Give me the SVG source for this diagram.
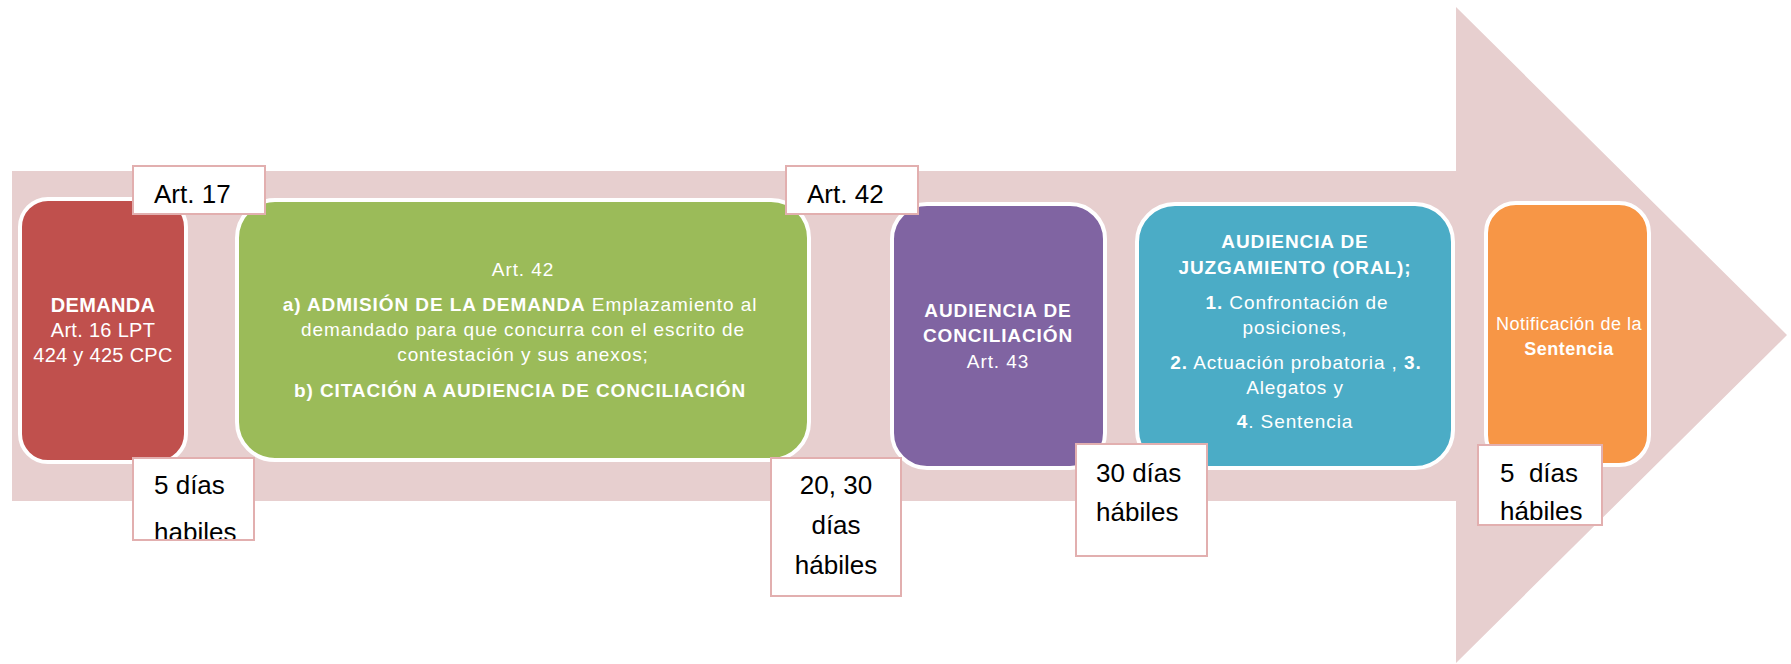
<svg xmlns="http://www.w3.org/2000/svg" width="1791" height="664" viewBox="0 0 1791 664">
<style>
.node{stroke:#ffffff;stroke-width:4}
.lbl{fill:#ffffff;stroke:#E2AFAF;stroke-width:2}
.lt{font-family:"Liberation Sans",Arial,sans-serif;font-size:26px;fill:#000000}
.nt{font-family:"Liberation Sans",Arial,sans-serif;font-size:19px;fill:#ffffff;text-anchor:middle;letter-spacing:0.9px}
.b{font-weight:bold}
</style>
<defs>
<clipPath id="clipL"><rect x="134" y="459" width="119" height="80"/></clipPath>
</defs>
<rect x="0" y="0" width="1791" height="664" fill="#ffffff"/>
<g id="connectors">
<polygon id="arrow" points="12,171 1456,171 1456,7 1787,335 1456,663 1456,501 12,501" fill="#E7CFCF"/>
</g>
<g id="demanda">
<rect class="node" x="20" y="199" width="166" height="263" rx="28" fill="#C0504D"/>
<text class="nt" style="font-size:20px;letter-spacing:0.3px" x="103" y="312"><tspan class="b">DEMANDA</tspan><tspan x="103" y="337">Art. 16 LPT</tspan><tspan x="103" y="362">424 y 425 CPC</tspan></text>
</g>
<g id="admision">
<rect class="node" x="237" y="200" width="572" height="260" rx="38" fill="#9BBB59"/>
<text class="nt" x="523" y="276">Art. 42</text>
<text class="nt" x="520" y="311"><tspan class="b">a) ADMISIÓN DE LA DEMANDA</tspan> Emplazamiento al</text>
<text class="nt" x="523" y="336">demandado para que concurra con el escrito de</text>
<text class="nt" x="523" y="361">contestación y sus anexos;</text>
<text class="nt b" x="520" y="397">b) CITACIÓN A AUDIENCIA DE CONCILIACIÓN</text>
</g>
<g id="conciliacion">
<rect class="node" x="892" y="204" width="213" height="264" rx="35" fill="#8064A2"/>
<text class="nt b" x="998" y="317">AUDIENCIA DE</text>
<text class="nt b" x="998" y="342">CONCILIACIÓN</text>
<text class="nt" x="998" y="368">Art. 43</text>
</g>
<g id="juzgamiento">
<rect class="node" x="1137" y="204" width="316" height="264" rx="38" fill="#4BACC6"/>
<text class="nt b" x="1295" y="248">AUDIENCIA DE</text>
<text class="nt b" x="1295" y="274">JUZGAMIENTO (ORAL);</text>
<text class="nt" x="1297" y="309"><tspan class="b">1.</tspan> Confrontación de</text>
<text class="nt" x="1295" y="334">posiciones,</text>
<text class="nt" x="1296" y="369"><tspan class="b">2.</tspan> Actuación probatoria , <tspan class="b">3.</tspan></text>
<text class="nt" x="1295" y="394">Alegatos y</text>
<text class="nt" x="1295" y="428"><tspan class="b">4</tspan>. Sentencia</text>
</g>
<g id="notificacion">
<rect class="node" x="1486" y="203" width="163" height="262" rx="30" fill="#F79646"/>
<text class="nt" style="font-size:18px;letter-spacing:0.5px" x="1569" y="330">Notificación de la</text>
<text class="nt b" style="font-size:18px;letter-spacing:0.5px" x="1569" y="355">Sentencia</text>
</g>
<g id="label-art17">
<rect class="lbl" x="133" y="166" width="132" height="48"/>
<text class="lt" x="154" y="203">Art. 17</text>
</g>
<g id="label-art42">
<rect class="lbl" x="786" y="166" width="132" height="48"/>
<text class="lt" x="807" y="203">Art. 42</text>
</g>
<g id="label-5dias-a">
<rect class="lbl" x="133" y="458" width="121" height="82"/>
<g clip-path="url(#clipL)">
<text class="lt" x="154" y="494">5 días</text>
<text class="lt" x="154" y="541">habiles</text>
</g>
</g>
<g id="label-20-30">
<rect class="lbl" x="771" y="458" width="130" height="138"/>
<text class="lt" x="836" y="494" text-anchor="middle">20, 30</text>
<text class="lt" x="836" y="534" text-anchor="middle">días</text>
<text class="lt" x="836" y="574" text-anchor="middle">hábiles</text>
</g>
<g id="label-30dias">
<rect class="lbl" x="1076" y="444" width="131" height="112"/>
<text class="lt" x="1096" y="482">30 días</text>
<text class="lt" x="1096" y="521">hábiles</text>
</g>
<g id="label-5dias-b">
<rect class="lbl" x="1478" y="445" width="124" height="80"/>
<text class="lt" x="1500" y="482" xml:space="preserve">5  días</text>
<text class="lt" x="1500" y="520">hábiles</text>
</g>
</svg>
